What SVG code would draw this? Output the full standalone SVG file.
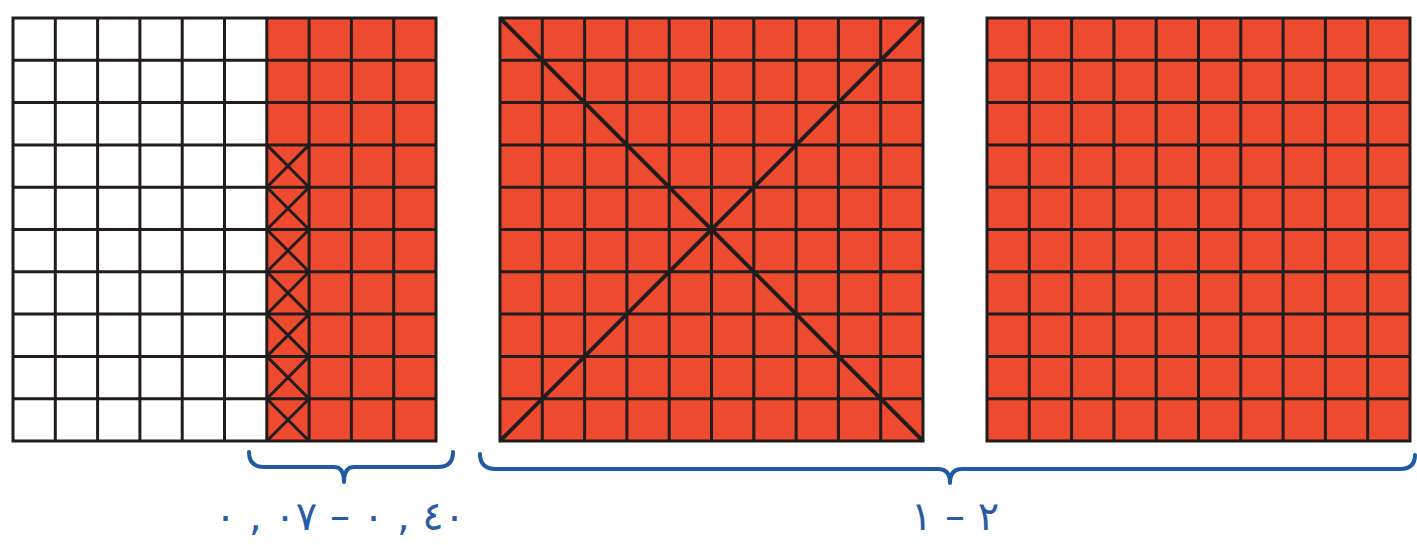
<svg xmlns="http://www.w3.org/2000/svg" xmlns:xlink="http://www.w3.org/1999/xlink" width="1417" height="545" viewBox="0 0 1417 545">
<style>
.red{fill:#ee4a2f}
.white{fill:#ffffff}
.grid{fill:none;stroke:#231c1c;stroke-width:3;stroke-linecap:square}
.cross{fill:none;stroke:#231c1c;stroke-width:3}
.bigx{fill:none;stroke:#231c1c;stroke-width:4}
.brace{fill:none;stroke:#1f5aa3;stroke-width:4;stroke-linecap:round;stroke-linejoin:round}
.lbl{font-family:"DejaVu Sans","Noto Sans",sans-serif;font-size:40px;fill:#2a5ca6;direction:ltr;unicode-bidi:bidi-override}
</style>
<defs>
<path id="gridlines" class="grid" d="M0,0V423M42.3,0V423M84.6,0V423M126.9,0V423M169.2,0V423M211.5,0V423M253.8,0V423M296.1,0V423M338.4,0V423M380.7,0V423M423,0V423M0,0H423M0,42.3H423M0,84.6H423M0,126.9H423M0,169.2H423M0,211.5H423M0,253.8H423M0,296.1H423M0,338.4H423M0,380.7H423M0,423H423"/>
</defs>
<rect width="1417" height="545" fill="#ffffff"/>
<g id="grid-left">
<rect class="white" x="13" y="18" width="253.8" height="423"/>
<rect class="red" x="266.8" y="18" width="169.2" height="423"/>
<path class="cross" d="M266.8,144.9L309.1,187.2M309.1,144.9L266.8,187.2M266.8,187.2L309.1,229.5M309.1,187.2L266.8,229.5M266.8,229.5L309.1,271.8M309.1,229.5L266.8,271.8M266.8,271.8L309.1,314.1M309.1,271.8L266.8,314.1M266.8,314.1L309.1,356.4M309.1,314.1L266.8,356.4M266.8,356.4L309.1,398.7M309.1,356.4L266.8,398.7M266.8,398.7L309.1,441M309.1,398.7L266.8,441"/>
<use xlink:href="#gridlines" href="#gridlines" transform="translate(13,18)"/>
</g>
<g id="grid-middle">
<rect class="red" x="500" y="18" width="423" height="423"/>
<use xlink:href="#gridlines" href="#gridlines" transform="translate(500,18)"/>
<path class="bigx" d="M500,18L923,441M923,18L500,441"/>
</g>
<g id="grid-right">
<rect class="red" x="987" y="18" width="423" height="423"/>
<use xlink:href="#gridlines" href="#gridlines" transform="translate(987,18)"/>
</g>
<g id="connectors">
<path class="brace" d="M249,452Q249,467 264,467L334,467Q344,467 344,482Q344,467 354,467L438,467Q453,467 453,452"/>
<path class="brace" d="M480,454Q480,469 496,469L938,469Q950,469 950,483Q950,469 962,469L1400,469Q1415,469 1415,455"/>
</g>
<g id="label-left">
<text class="lbl" x="340" y="530" text-anchor="middle">٠ , ٠٧ – ٠ , ٤٠</text>
</g>
<g id="label-right">
<text class="lbl" x="955" y="530" text-anchor="middle">١ – ٢</text>
</g>
</svg>
